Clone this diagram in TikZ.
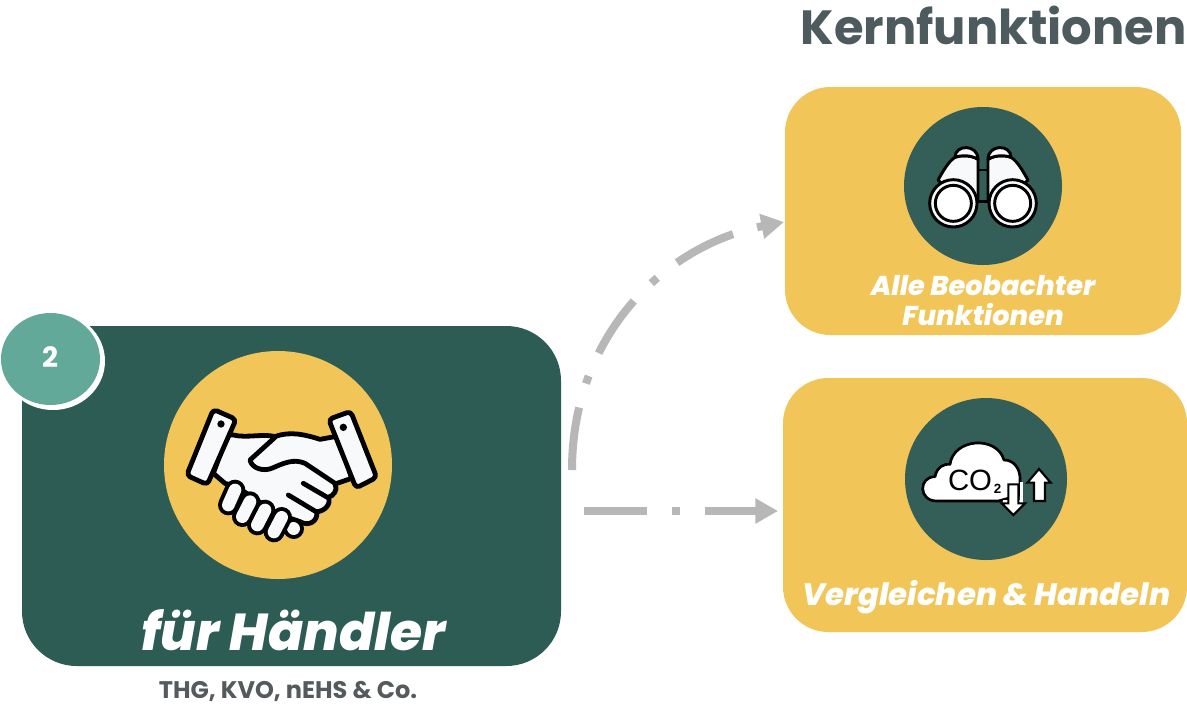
\documentclass[tikz,border=0pt]{standalone}
\usepackage{fontspec}
\setmainfont{Poppins}
\newfontface\xbi{Poppins ExtraBold Italic}
\newfontfamily\arialf{Liberation Sans}
\usetikzlibrary{arrows.meta,shapes.geometric}
\definecolor{dgreen}{HTML}{2D5C55}
\definecolor{iconGreen}{HTML}{345E58}
\definecolor{gold}{HTML}{F2C558}
\definecolor{teal}{HTML}{63A99A}
\definecolor{flow}{HTML}{B7B7B7}
\definecolor{titleg}{HTML}{4D5A5E}
\definecolor{subg}{HTML}{555A5C}
\definecolor{iconw}{HTML}{F8F9FB}
\tikzset{
  card/.style={inner sep=0pt,rounded corners=#1,fill=gold},
  disc/.style={circle,inner sep=0pt,fill=#1},
  labeltxt/.style={inner sep=0pt,text=white,align=center,anchor=base},
  flowline/.style={draw=flow,line width=6pt,dash pattern=on 47.25pt off 18.75pt on 6pt off 18.75pt,-{Triangle[length=17pt,width=18pt]}},
  ink/.style={draw=black,line width=3.6pt,line join=round,line cap=round},
  inkthin/.style={draw=black,line width=2.2pt,line join=round,line cap=round},
}
\begin{document}
\begin{tikzpicture}[x=0.75pt,y=-0.75pt]
\useasboundingbox[fill=white] (0,0) rectangle (1187,704);
% cards
\node[card=41pt,fill=dgreen,minimum width=404.25pt,minimum height=255pt] (main) at (291.5,496) {};
\node[card=34pt,minimum width=297pt,minimum height=186pt] (top) at (983,211) {};
\node[card=34pt,minimum width=303pt,minimum height=190.5pt] (bot) at (985,505) {};
% discs
\node[disc=gold,minimum size=171pt] (dhand) at (278,465) {};
\node[disc=iconGreen,minimum size=118.5pt] (dbin) at (983,186) {};
\node[disc=iconGreen,minimum size=121.5pt] (dco) at (986,479) {};
\node[ellipse,inner sep=0pt,fill=white,minimum width=78pt,minimum height=73.5pt] (ring) at (53,361) {};
\node[ellipse,inner sep=0pt,fill=teal,minimum width=74.25pt,minimum height=69pt] (badge) at (50.5,359) {};
\node[inner sep=0pt,text=white,font=\bfseries\fontsize{21}{25}\selectfont] (num) at (50,357) {2};
% texts
\node[inner sep=0pt,anchor=base east,text=titleg,font=\bfseries\fontsize{36}{40}\selectfont] (title) at (1187,44) {Kernfunktionen};
\node[labeltxt,font=\xbi\fontsize{38.9}{44}\selectfont] (fh) at (293.5,650) {für Händler};
\node[inner sep=0pt,anchor=base,text=subg,font=\bfseries\fontsize{18}{20}\selectfont] (thg) at (288,698) {THG, KVO, nEHS \& Co.};
\node[labeltxt,font=\xbi\fontsize{20.4}{22.5}\selectfont] (l1) at (983,325) {Alle Beobachter\\Funktionen};
\node[labeltxt,font=\xbi\fontsize{23.1}{26}\selectfont] (l2) at (986.5,605) {Vergleichen \& Handeln};
% connectors
\coordinate (s1) at (572,470);
\coordinate (e1) at (784,222);
\coordinate (s2) at (584,511);
\coordinate (e2) at (778,511);
\draw[flowline] (s1) .. controls (572,335) and (665,245) .. (e1);
\draw[flowline] (s2) -- (e2);
% handshake icon
\begin{scope}[shift={(150,340)},scale=1/3]
  \path[ink,fill=iconw] (232,285) -- (250,285) .. controls (290,295) and (340,280) .. (375,290)
    .. controls (420,272) and (470,285) .. (510,298) -- (565,288) -- (605,415) -- (555,432)
    .. controls (565,450) and (550,468) .. (535,472)
    .. controls (545,495) and (520,515) .. (500,515)
    .. controls (505,545) and (475,560) .. (450,545)
    -- (380,520) -- (260,440) -- (225,430) -- (190,400) -- cycle;
  \foreach \a/\b/\c/\d in {430/565/431/566,395/532/372/576,345/510/322/555,300/485/277/530,255/450/235/495}{
    \draw[line width=15.5pt,line cap=round,black] (\a,\b) -- (\c,\d);
    \draw[line width=9.5pt,line cap=round,iconw] (\a,\b) -- (\c,\d);
  }
  \path[ink] (375,292) -- (300,360) .. controls (305,385) and (340,395) .. (365,385)
     .. controls (400,370) and (430,355) .. (465,370) -- (555,430);
  \path[ink] (460,430) -- (532,472);
  \path[ink] (415,465) -- (498,515);
  \path[ink,fill=iconw,rounded corners=3pt] (190,208) -- (258,238) -- (172,434) -- (110,406) -- cycle;
  \path[ink,fill=iconw,rounded corners=3pt] (536,238) -- (602,214) -- (680,412) -- (618,444) -- cycle;
  \fill[black] (213,252) circle (11);
  \fill[black] (580,262) circle (11);
\end{scope}
% binoculars icon
\begin{scope}[shift={(890,100)},scale=1/3]
  \draw[inkthin] (264,210) -- (294,210);
  \draw[inkthin] (264,305) -- (294,305);
  \foreach \s in {1,-1}{
    \begin{scope}[shift={(279,0)},xscale=\s]
      \path[inkthin,fill=iconw] (15,178) -- (15,300) -- (60,310) -- (135,240) .. controls (120,215) and (105,185) .. (84,172) .. controls (65,165) and (35,165) .. (15,178) -- cycle;
      \path[inkthin,fill=iconw] (15,178) .. controls (15,132) and (84,132) .. (84,172) .. controls (65,165) and (35,165) .. (15,178) -- cycle;
      \path[draw=black,line width=2.2pt,fill=iconw] (89,310) circle (71);
      \path[draw=black,line width=2.2pt,fill=white] (89,310) circle (54);
    \end{scope}
  }
\end{scope}
% CO2 icon
\begin{scope}[shift={(890,395)},scale=1/3]
  \path[draw=black,line width=2pt,fill=white,line join=round] (325,318) -- (140,318)
    .. controls (85,318) and (85,245) .. (135,245)
    .. controls (140,215) and (165,205) .. (180,208)
    .. controls (190,130) and (320,120) .. (342,195)
    .. controls (375,195) and (390,225) .. (390,250) -- (390,300) -- (325,318) -- cycle;
  \path[draw=white,line width=2.5pt] (340,320) -- (395,320) -- (395,262);
  \path[draw=black,line width=1.6pt,fill=white,line join=miter] (355,268) -- (385,268) -- (385,325) -- (405,325) -- (370,360) -- (335,325) -- (355,325) -- cycle;
  \path[draw=black,line width=1.6pt,fill=white,line join=miter] (432,318) -- (465,318) -- (465,263) -- (482,263) -- (447,222) -- (412,263) -- (432,263) -- cycle;
  \node[inner sep=0pt,anchor=base,text=black,font=\arialf\fontsize{22}{24}\selectfont] (cotxt) at (240,285) {CO};
  \node[inner sep=0pt,anchor=base,text=black,font=\arialf\bfseries\fontsize{10}{11}\selectfont] (cosub) at (323,295) {2};
\end{scope}
\end{tikzpicture}
\end{document}
